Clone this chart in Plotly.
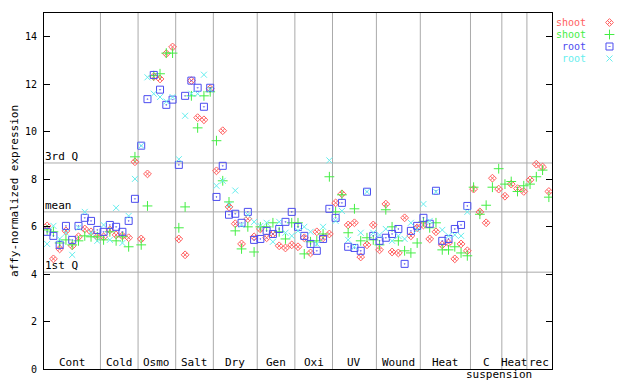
import plotly.graph_objects as go

# ---------------- data ----------------
categories = ["Cont", "Cold", "Osmo", "Salt", "Dry", "Gen", "Oxi", "UV",
              "Wound", "Heat", "C", "Heat", "rec"]
counts = [9, 6, 6, 6, 7, 6, 6, 7, 7, 8, 5, 4, 4]

shoot_red = [6.03, 4.64, 5.06, 5.82, 5.19, 5.57, 5.90, 5.78, 5.57,
             5.57, 5.86, 5.65, 5.61, 5.53, 8.73,
             5.48, 8.22, 12.32, 12.22, 13.29, 13.57,
             5.48, 4.81, 12.15, 10.59, 10.50, 11.81,
             8.35, 10.04, 6.83, 6.12, 5.27, 6.33, 5.57,
             5.90, 5.53, 5.69, 5.19, 5.10, 5.23,
             5.15, 5.53, 4.89, 5.78, 5.53, 5.69,
             7.00, 7.38, 6.07, 6.16, 4.72, 5.23, 6.07,
             5.02, 6.95, 4.93, 4.89, 6.37, 5.61, 5.95,
             6.07, 5.48, 5.78, 5.23, 5.31, 4.64, 5.27, 4.98,
             7.58, 6.62, 6.16, 8.04, 7.58,
             7.28, 7.79, 7.60, 7.48,
             7.97, 8.63, 8.51, 7.48]

shoot_green = [5.86, 5.78, 5.31, 5.44, 5.23, 5.40, 5.61, 5.57, 5.57,
               5.44, 5.78, 5.40, 5.57, 5.15, 8.94,
               5.23, 6.87, 12.36, 12.44, 13.31, 13.31,
               5.95, 6.83, 11.51, 10.16, 11.51, 11.68,
               9.62, 7.93, 7.04, 5.82, 5.06, 5.99, 4.93,
               5.99, 5.99, 6.16, 5.78, 5.48, 6.16,
               6.16, 4.85, 5.36, 5.40, 5.69, 8.10,
               6.62, 7.34, 5.74, 6.75, 5.40, 5.53, 5.44,
               5.23, 6.71, 5.99, 5.40, 4.98, 4.89, 5.31,
               6.20, 5.95, 6.16, 5.02, 5.02, 5.15, 4.89, 4.77,
               7.66, 6.52, 6.90, 7.66, 8.44,
               7.79, 7.90, 7.48, 7.72,
               7.79, 8.10, 8.38, 7.24]

root_blue = [5.78, 5.61, 5.23, 6.03, 5.44, 6.03, 6.37, 6.24, 5.86,
             5.78, 6.07, 5.99, 5.78, 6.24, 7.17,
             9.41, 11.37, 12.39, 11.77, 11.13, 11.35,
             8.60, 11.51, 12.15, 11.85, 11.05, 11.85,
             7.25, 8.56, 6.50, 6.54, 6.16, 6.62, 5.44,
             5.48, 5.82, 5.69, 5.90, 6.20, 6.62,
             5.99, 5.61, 5.27, 4.98, 5.48, 6.75,
             6.37, 7.00, 5.15, 5.10, 4.98, 7.47, 5.61,
             5.40, 5.53, 5.69, 5.90, 4.43, 5.82, 6.03,
             6.37, 6.12, 7.51, 5.40, 5.48, 5.90, 6.07, 6.87] + [None] * 13

root_cyan = [5.27, 6.03, 5.48, 5.74, 4.81, 5.95, 6.62, 5.74, 5.40,
             6.07, 5.44, 6.79, 5.31, 6.45, 8.01,
             9.41, 12.29, 11.60, 11.46, 11.27, 11.46,
             8.84, 10.67, 11.60, 11.60, 12.40, 11.77,
             7.72, 7.93, 6.92, 7.52, 6.07, 6.50, 6.20,
             6.03, 6.16, 5.36, 6.20, 5.74, 5.61,
             5.82, 5.99, 5.78, 5.27, 5.99, 8.79,
             6.24, 6.66, 5.44, 5.15, 5.74, 7.47, 5.74,
             5.65, 5.90, 5.40, 5.61, 5.48, 6.16, 5.86,
             6.95, 6.24, 7.47, 5.86, 5.61, 5.65, 5.61, 6.62] + [None] * 13

quartiles = {"3rd Q": 8.68, "mean": 6.62, "1st Q": 4.08}
y_ticks = [0, 2, 4, 6, 8, 10, 12, 14]

series = [
    ("shoot", shoot_red, "#ff6060", "diamond-x-open", 6),
    ("shoot", shoot_green, "#44ee44", "cross-thin-open", 7),
    ("root", root_blue, "#4c4cf0", "square-open-dot", 7),
    ("root", root_cyan, "#66eeee", "x-thin-open", 6),
]

# ---------------- figure ----------------
# the page body adds an 8 px offset, so the figure is 8 px smaller
OFF = 8
W, H = 640 - OFF, 384 - OFF
ML, MR, MT, MB = 44 - OFF, 10, 13 - OFF, 15
plot_w = 508
paper_w = W - ML - MR
dom_end = plot_w / paper_w
FONT = "DejaVu Sans Mono"

n = sum(counts)
xs = list(range(n))
fig = go.Figure()

for name, vals, color, sym, size in series:
    fig.add_trace(go.Scatter(
        x=xs, y=vals, mode="markers", showlegend=False,
        marker=dict(symbol=sym, size=size, color=color,
                    line=dict(color=color, width=1)),
        hoverinfo="skip"))

# category boundaries and labels
shapes = []
annotations = []
start = 0
for i, (cat, c) in enumerate(zip(categories, counts)):
    end = start + c
    if i < len(categories) - 1:
        shapes.append(dict(type="line", xref="x", yref="y domain",
                           x0=end - 0.5, x1=end - 0.5, y0=0, y1=1,
                           line=dict(color="#aaaaaa", width=1), layer="below"))
    annotations.append(dict(text=cat, xref="x", yref="y domain",
                            x=(start + end - 1) / 2, y=0, yanchor="bottom",
                            showarrow=False, yshift=-1, borderpad=0,
                            font=dict(family=FONT, size=11, color="black")))
    start = end

# "suspension" under C / Heat groups
s_start = sum(counts[:10])
s_end = sum(counts[:12])
annotations.append(dict(text="suspension", xref="x", yref="y domain",
                        x=(s_start + s_end - 1) / 2, y=0, yanchor="top",
                        showarrow=False, yshift=2, borderpad=0,
                        font=dict(family=FONT, size=11, color="black")))

for label, val in quartiles.items():
    shapes.append(dict(type="line", xref="x domain", yref="y",
                       x0=0, x1=1, y0=val, y1=val,
                       line=dict(color="#aaaaaa", width=1), layer="below"))
    annotations.append(dict(text=label, xref="x domain", yref="y",
                            x=0, y=val, xanchor="left", yanchor="bottom",
                            showarrow=False, xshift=-1, yshift=-2,
                            font=dict(family=FONT, size=11, color="black")))

# legend (text on the left, symbol on the right)
leg_right = (587 - 44) / paper_w
for k, (name, vals, color, sym, size) in enumerate(series):
    row = len(series) - 1 - k
    annotations.append(dict(text=name, xref="paper", yref="y2",
                            x=leg_right, y=row, xanchor="right",
                            yanchor="middle", showarrow=False, borderpad=0,
                            font=dict(family=FONT, size=10, color=color)))
    fig.add_trace(go.Scatter(
        x=[0], y=[row], xaxis="x2", yaxis="y2", mode="markers",
        showlegend=False, hoverinfo="skip",
        marker=dict(symbol=sym, size=size, color=color,
                    line=dict(color=color, width=1))))

fig.update_layout(
    width=W, height=H,
    margin=dict(l=ML, r=MR, t=MT, b=MB),
    paper_bgcolor="white", plot_bgcolor="white",
    showlegend=False,
    font=dict(family=FONT, size=10, color="black"),
    xaxis=dict(domain=[0, dom_end], range=[-0.5, n - 0.5],
               showgrid=False, zeroline=False, showticklabels=False,
               ticks="", showline=True, linecolor="black", linewidth=1,
               mirror=True, fixedrange=True),
    yaxis=dict(range=[0, 15], tickvals=y_ticks, ticks="inside", ticklen=6,
               tickcolor="black", showgrid=False, zeroline=False,
               showline=True, linecolor="black", linewidth=1, mirror="ticks",
               tickfont=dict(family=FONT, size=10), ticklabelstandoff=4,
               title=dict(text="affy-normalized expression",
                          font=dict(family=FONT, size=11), standoff=4)),
    xaxis2=dict(domain=[0.94, 0.99], range=[-1, 1], visible=False,
                anchor="y2", fixedrange=True),
    yaxis2=dict(domain=[0.85, 1.0], range=[-0.658, 3.792], visible=False,
                anchor="x2", fixedrange=True),
    shapes=shapes,
    annotations=annotations,
)

fig.write_html("out.html")
